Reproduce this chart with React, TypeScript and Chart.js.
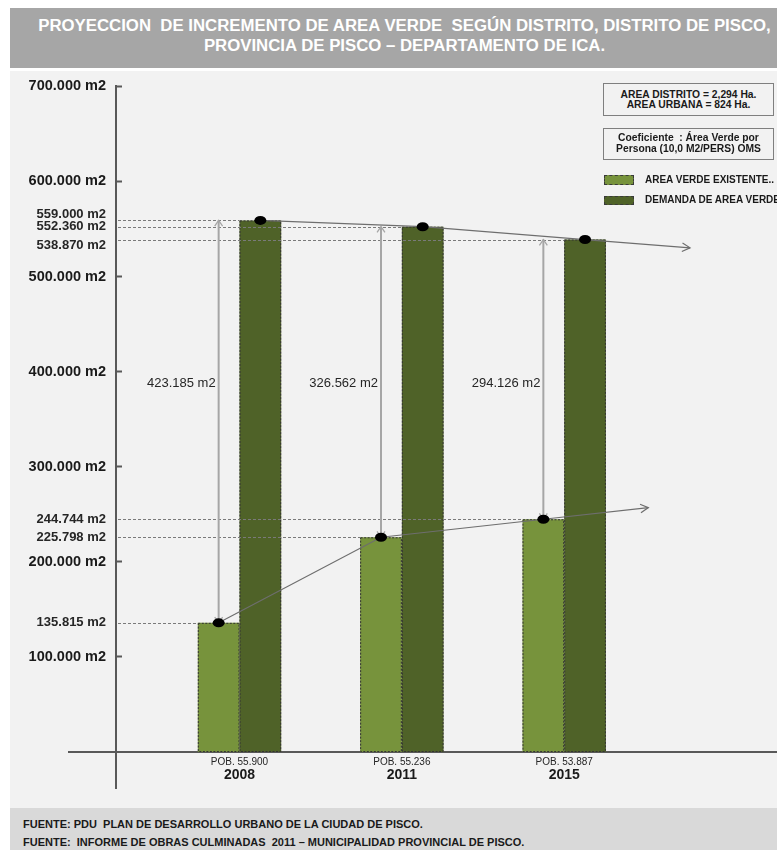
import React, { useEffect, useRef } from 'react';
import { Chart, registerables } from 'chart.js';

Chart.register(...registerables);

// ---------- DATA ----------
const years = ['2008', '2011', '2015'];
const population = [55900, 55236, 53887];
const areaVerdeExistente = [135815, 225798, 244744];
const demandaAreaVerde = [559000, 552360, 538870];
const yTickValues = [100000, 200000, 300000, 400000, 500000, 600000, 700000];
const seriesLabels = ['AREA VERDE EXISTENTE..', 'DEMANDA DE AREA VERDE'];
const seriesColors = ['#77933c', '#4f6228'];
const titleLines = [
  'PROYECCION  DE INCREMENTO DE AREA VERDE  SEGÚN DISTRITO, DISTRITO DE PISCO,',
  'PROVINCIA DE PISCO – DEPARTAMENTO DE ICA.',
];
const infoBox1 = ['AREA DISTRITO = 2,294 Ha.', 'AREA URBANA = 824 Ha.'];
const infoBox2 = ['Coeficiente  : Área Verde por', 'Persona (10,0 M2/PERS) OMS'];
const footerLines = [
  'FUENTE: PDU  PLAN DE DESARROLLO URBANO DE LA CIUDAD DE PISCO.',
  'FUENTE:  INFORME DE OBRAS CULMINADAS  2011 – MUNICIPALIDAD PROVINCIAL DE PISCO.',
];

// ---------- LAYOUT CONSTANTS ----------
const Y_MIN = -37850;
const Y_MAX = 700000;
const X_MIN = -0.7607;
const X_MAX = 3.3107;
const FONT = '"Liberation Sans", Arial, sans-serif';
const TREND_EXT = 105;
const DIFF_LABEL_FRAC = 0.424;

const fmt = (n: number) => String(Math.round(n)).replace(/\B(?=(\d{3})+(?!\d))/g, '.');
const specialValues = [...areaVerdeExistente, ...demandaAreaVerde];

function arrowHead(ctx: CanvasRenderingContext2D, x: number, y: number, ang: number, len: number, spread: number) {
  ctx.beginPath();
  ctx.moveTo(x - len * Math.cos(ang - spread), y - len * Math.sin(ang - spread));
  ctx.lineTo(x, y);
  ctx.lineTo(x - len * Math.cos(ang + spread), y - len * Math.sin(ang + spread));
  ctx.stroke();
}

const overlayPlugin = {
  id: 'overlay',
  afterDatasetsDraw(chart: any) {
    const ctx: CanvasRenderingContext2D = chart.ctx;
    const area = chart.chartArea;
    const ys = chart.scales.y;
    const exBars = chart.getDatasetMeta(0).data;
    const demBars = chart.getDatasetMeta(1).data;
    const y0 = ys.getPixelForValue(0);
    ctx.save();

    // x axis extension left of the y axis
    ctx.strokeStyle = '#595959';
    ctx.lineWidth = 2;
    ctx.beginPath();
    ctx.moveTo(area.left - 48, y0);
    ctx.lineTo(area.left, y0);
    ctx.stroke();

    const all = [...exBars, ...demBars];
    // dashed bar outlines
    ctx.setLineDash([2, 1.5]);
    ctx.lineWidth = 1;
    ctx.strokeStyle = '#333';
    all.forEach((b: any) => {
      ctx.strokeRect(b.x - b.width / 2 + 0.5, b.y + 0.5, b.width - 1, b.base - b.y - 1);
    });

    // dashed guide lines from the axis to each bar
    ctx.setLineDash([3, 2]);
    ctx.strokeStyle = '#7a7a7a';
    all.forEach((b: any) => {
      const yy = Math.round(b.y) + 0.5;
      ctx.beginPath();
      ctx.moveTo(area.left + 2, yy);
      ctx.lineTo(b.x - b.width / 2, yy);
      ctx.stroke();
    });
    ctx.setLineDash([]);

    // vertical double arrows and difference labels
    const labelY = area.top + (area.bottom - area.top) * DIFF_LABEL_FRAC;
    exBars.forEach((eb: any, i: number) => {
      const db = demBars[i];
      const x = eb.x;
      ctx.strokeStyle = '#a6a6a6';
      ctx.lineWidth = 2;
      ctx.beginPath();
      ctx.moveTo(x, db.y);
      ctx.lineTo(x, eb.y);
      ctx.stroke();
      ctx.lineWidth = 1.3;
      arrowHead(ctx, x, db.y, -Math.PI / 2, 7, 0.6);
      arrowHead(ctx, x, eb.y, Math.PI / 2, 7, 0.6);
      ctx.fillStyle = '#262626';
      ctx.font = `13px ${FONT}`;
      ctx.textAlign = 'right';
      ctx.textBaseline = 'middle';
      ctx.fillText(fmt(demandaAreaVerde[i] - areaVerdeExistente[i]) + ' m2', x - 3, labelY);
    });

    // trend lines with arrows, and dots
    const trend = (bars: any[]) => {
      const pts = bars.map((b: any) => ({ x: b.x, y: b.y }));
      ctx.strokeStyle = '#6e6e6e';
      ctx.lineWidth = 1.2;
      ctx.beginPath();
      pts.forEach((p, i) => (i ? ctx.lineTo(p.x, p.y) : ctx.moveTo(p.x, p.y)));
      const a = pts[pts.length - 2];
      const b = pts[pts.length - 1];
      const dx = b.x - a.x;
      const dy = b.y - a.y;
      const ex = b.x + TREND_EXT;
      const ey = b.y + (dy / dx) * TREND_EXT;
      ctx.lineTo(ex, ey);
      ctx.stroke();
      arrowHead(ctx, ex, ey, Math.atan2(dy, dx), 9, 0.5);
      ctx.fillStyle = '#000';
      pts.forEach((p) => {
        ctx.beginPath();
        ctx.ellipse(p.x, p.y, 6, 4.5, 0, 0, Math.PI * 2);
        ctx.fill();
      });
    };
    trend(exBars);
    trend(demBars);
    ctx.restore();
  },
};

function yLabel(value: any) {
  const v = Number(value);
  const label = fmt(v) + ' m2';
  if (!specialValues.includes(v)) return label;
  const thr = 0.02 * (Y_MAX - Y_MIN);
  const above = specialValues.some((s) => s > v && s - v < thr);
  const below = specialValues.some((s) => s < v && v - s < thr);
  if (above && !below) return ['', label];
  if (below && !above) return [label, ''];
  return label;
}

export default function App() {
  const ref = useRef<HTMLCanvasElement>(null);

  useEffect(() => {
    if (!ref.current) return;
    Chart.defaults.font.family = FONT;
    const xTicks = (s: any) => {
      s.ticks = years.map((_, i) => ({ value: i }));
    };
    const chart = new Chart(ref.current, {
      type: 'bar',
      data: {
        datasets: [
          {
            label: seriesLabels[0],
            data: areaVerdeExistente.map((v, i) => ({ x: i, y: v })),
            backgroundColor: seriesColors[0],
            borderWidth: 0,
            categoryPercentage: 0.5137,
            barPercentage: 1,
          },
          {
            label: seriesLabels[1],
            data: demandaAreaVerde.map((v, i) => ({ x: i, y: v })),
            backgroundColor: seriesColors[1],
            borderWidth: 0,
            categoryPercentage: 0.5137,
            barPercentage: 1,
          },
        ] as any,
      },
      options: {
        responsive: false,
        animation: false,
        events: [],
        layout: { padding: { top: 15.3, bottom: 20, left: 0, right: 0 } },
        plugins: { legend: { display: false }, tooltip: { enabled: false } },
        scales: {
          x: {
            type: 'linear',
            position: { y: 0 } as any,
            min: X_MIN,
            max: X_MAX,
            offset: false,
            grace: 0,
            bounds: 'data',
            afterBuildTicks: xTicks,
            grid: { display: false, drawTicks: false, offset: false },
            border: { display: true, color: '#595959', width: 2 },
            ticks: {
              autoSkip: false,
              includeBounds: false,
              maxRotation: 0,
              padding: 14.6,
              color: '#1a1a1a',
              font: { size: 14, weight: 'bold' },
              callback: (v: any) => years[Number(v)] ?? '',
            },
          },
          x2: {
            type: 'linear',
            axis: 'x',
            position: { y: 0 } as any,
            min: X_MIN,
            max: X_MAX,
            offset: false,
            grace: 0,
            bounds: 'data',
            afterBuildTicks: xTicks,
            grid: { display: false, drawTicks: false, offset: false },
            border: { display: false },
            ticks: {
              autoSkip: false,
              includeBounds: false,
              maxRotation: 0,
              padding: 4,
              color: '#262626',
              font: { size: 10 },
              callback: (v: any) => 'POB. ' + fmt(population[Number(v)]),
            },
          },
          y: {
            type: 'linear',
            position: 'left',
            min: Y_MIN,
            max: Y_MAX,
            bounds: 'data',
            afterBuildTicks: (s: any) => {
              s.ticks = [...yTickValues, ...specialValues].sort((a, b) => a - b).map((v) => ({ value: v }));
            },
            afterFit: (s: any) => {
              s.width = 106;
              s.paddingTop = 0;
              s.paddingBottom = 0;
            },
            grid: {
              drawOnChartArea: false,
              drawTicks: true,
              tickLength: -6,
              tickWidth: 2,
              tickColor: (c: any) => (yTickValues.includes(c.tick?.value) ? '#595959' : 'rgba(0,0,0,0)'),
            },
            border: { display: true, color: '#595959', width: 2 },
            ticks: {
              autoSkip: false,
              padding: 16,
              color: (c: any) => (yTickValues.includes(c.tick?.value) ? '#1a1a1a' : '#262626'),
              font: (c: any) =>
                yTickValues.includes(c.tick?.value)
                  ? { size: 14.5, weight: 'bold', family: FONT }
                  : { size: 13, weight: 'bold', family: FONT, lineHeight: 0.85 },
              callback: yLabel,
            },
          },
        } as any,
      },
      plugins: [overlayPlugin],
    } as any);
    return () => chart.destroy();
  }, []);

  const boxStyle: React.CSSProperties = {
    position: 'absolute',
    left: 593,
    width: 171,
    border: '1px solid #7f7f7f',
    boxSizing: 'border-box',
    textAlign: 'center',
    fontSize: 10.3,
    fontWeight: 700,
    lineHeight: '10.5px',
    color: '#1a1a1a',
    whiteSpace: 'pre',
    background: '#f2f2f2',
  };

  return (
    <div
      style={{
        position: 'absolute',
        left: 0,
        top: 0,
        width: 777,
        height: 850,
        background: '#fff',
        overflow: 'hidden',
        fontFamily: FONT,
      }}
    >
      <div
        style={{
          position: 'absolute',
          left: 10,
          top: 8,
          width: 767,
          height: 60,
          background: '#a6a6a6',
          color: '#fff',
          fontWeight: 700,
          fontSize: 16.8,
          lineHeight: '20px',
          textAlign: 'center',
          paddingTop: 8,
          paddingLeft: 22,
          boxSizing: 'border-box',
          whiteSpace: 'pre',
        }}
      >
        {titleLines.map((t) => (
          <div key={t}>{t}</div>
        ))}
      </div>

      <div style={{ position: 'absolute', left: 10, top: 71, width: 767, height: 737, background: '#f2f2f2' }}>
        <canvas ref={ref} width={767} height={737} style={{ display: 'block' }} />

        <div style={{ ...boxStyle, top: 12, height: 33, paddingTop: 5.5 }}>
          {infoBox1.map((t) => (
            <div key={t}>{t}</div>
          ))}
        </div>
        <div style={{ ...boxStyle, top: 57, height: 32, paddingTop: 4 }}>
          {infoBox2.map((t) => (
            <div key={t}>{t}</div>
          ))}
        </div>

        {seriesLabels.map((lab, i) => (
          <React.Fragment key={lab}>
            <div
              style={{
                position: 'absolute',
                left: 594,
                top: 104 + i * 20.5,
                width: 30,
                height: 9.5,
                background: seriesColors[i],
                border: '1px dashed #3a3a3a',
                boxSizing: 'border-box',
              }}
            />
            <div
              style={{
                position: 'absolute',
                left: 635,
                top: 102.5 + i * 20.5,
                lineHeight: '12px',
                fontSize: 10,
                fontWeight: 700,
                color: '#1a1a1a',
                whiteSpace: 'pre',
              }}
            >
              {lab}
            </div>
          </React.Fragment>
        ))}
      </div>

      <div
        style={{
          position: 'absolute',
          left: 10,
          top: 808,
          width: 767,
          height: 42,
          background: '#d9d9d9',
          color: '#1a1a1a',
          fontWeight: 700,
          fontSize: 11,
          lineHeight: '18px',
          paddingTop: 7,
          paddingLeft: 13,
          boxSizing: 'border-box',
          whiteSpace: 'pre',
        }}
      >
        {footerLines.map((t) => (
          <div key={t}>{t}</div>
        ))}
      </div>
    </div>
  );
}
